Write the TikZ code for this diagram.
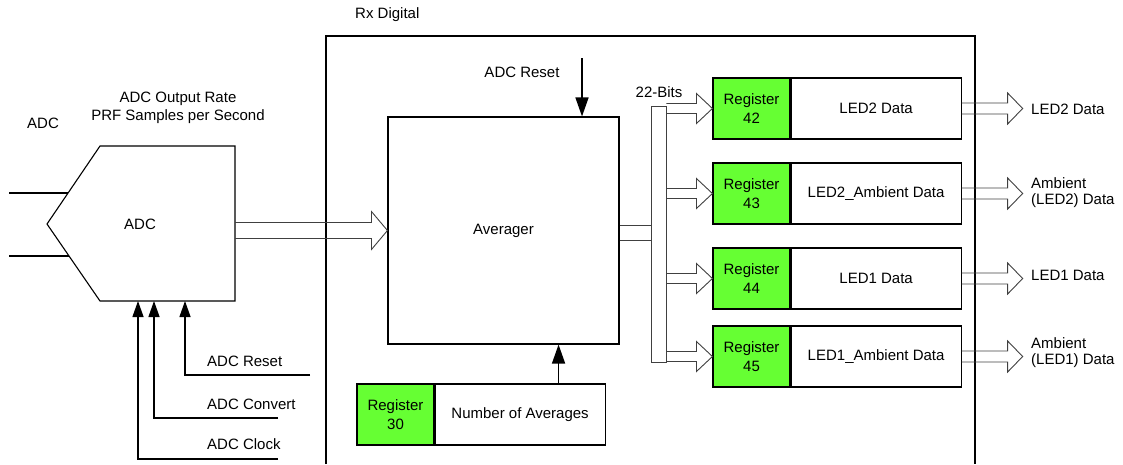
\documentclass[tikz,border=0pt]{standalone}
\usepackage{fontspec}
\setmainfont{Liberation Sans}
\usetikzlibrary{arrows.meta,calc}
\definecolor{reggreen}{RGB}{102,255,51}
\newcommand\hollowarrow[5]{%
  \draw[harrow] let \p1=#1, \p2=#2 in
   (\x1,\y2+#3) -- (\x2-#5,\y2+#3) -- (\x2-#5,\y2+#4) -- (\x2,\y2)
   -- (\x2-#5,\y2-#4) -- (\x2-#5,\y2-#3) -- (\x1,\y2-#3);}
\newcommand\regrow[5]{% num, y, text, out label, out y
  \node[greenbox] (g#1) at (751.5,#2) {Register\\#1};
  \node[whitebox, anchor=west] (w#1) at (g#1.east) {#3};
  \hollowarrow{(bar.east)}{(g#1.west)}{5pt}{15pt}{16pt}
  \node[lbl] (o#1) at (1031,#5) {#4};
  \coordinate (tip#1) at ([xshift=61pt]w#1.east);
  \hollowarrow{(w#1.east)}{(tip#1)}{5.5pt}{15.5pt}{15pt}}
\begin{document}
\begin{tikzpicture}[x=1pt,y=-1pt,
  every node/.style={font=\fontsize{15}{18}\selectfont, inner sep=0pt},
  box/.style={draw, line width=1.1pt, fill=white, minimum height=61pt},
  greenbox/.style={box, fill=reggreen, minimum width=77pt, align=center, font=\fontsize{15}{19}\selectfont},
  whitebox/.style={box, minimum width=170pt},
  harrow/.style={draw=black!75, line width=0.9pt},
  sig/.style={line width=1.3pt, -{Triangle[length=16pt,width=11pt]}},
  sigbig/.style={line width=1.5pt, -{Triangle[length=19pt,width=13pt]}},
  lbl/.style={anchor=west, align=left, font=\fontsize{15}{16}\selectfont}]
\useasboundingbox (0,0) rectangle (1123,464);

% Rx Digital enclosure
\node[anchor=west] (rxlbl) at (355,15) {Rx Digital};
\draw[line width=1.1pt] (326,464) -- (326,36) -- (975,36) -- (975,464);

% ADC
\draw[line width=1.1pt] (100,146) -- (235,146) -- (235,301) -- (100,301) -- (47,224) -- cycle;
\node (adc) at (140,224) {ADC};
\coordinate (adcR) at (235,229);
\coordinate (in1) at (9,193);
\coordinate (in2) at (9,256);
\draw[line width=1.3pt] (in1) -- (68,193);
\draw[line width=1.3pt] (in2) -- (69,256);
\node (adclbl) at (43,123) {ADC};
\node[align=center] (ratelbl) at (178,108) {ADC Output Rate\\PRF Samples per Second};

% ADC control inputs
\coordinate (tClk) at (138,301);
\coordinate (tCnv) at (154,301);
\coordinate (tRst) at (185,301);
\node[anchor=west] (lRst) at (207,361) {ADC Reset};
\node[anchor=west] (lCnv) at (207,404) {ADC Convert};
\node[anchor=west] (lClk) at (207,444) {ADC Clock};
\coordinate (eRst) at (310,375);
\coordinate (eCnv) at (278,418);
\coordinate (eClk) at (278,459);
\draw[sig] (eRst) -| (tRst);
\draw[sig] (eCnv) -| (tCnv);
\draw[sig] (eClk) -| (tClk);

% Averager
\node[draw, line width=1.1pt, minimum width=231pt, minimum height=227pt] (avg) at (503.5,230.5) {Averager};
\hollowarrow{(adcR)}{(avg.west)}{8pt}{19pt}{16pt}

\node (avgrst) at (522,72) {ADC Reset};
\coordinate (rstTop) at (582,58);
\draw[sigbig] (rstTop) -- (rstTop |- avg.north);

% Register 30
\node[greenbox] (g30) at (395.5,414.5) {Register\\30};
\node[whitebox, anchor=west] (w30) at (g30.east) {Number of Averages};
\coordinate (n30) at ([xshift=124pt]w30.north west);
\draw[sigbig] (n30) -- (n30 |- avg.south);

% 22-bit bus
\node[draw=black!75, line width=0.9pt, minimum width=15pt, minimum height=256pt] (bar) at (658.5,234) {};
\node (bits) at (659,92) {22-Bits};
\coordinate (bt) at ([yshift=5.5pt]avg.east);
\coordinate (bb) at ([yshift=-9.5pt]avg.east);
\draw[harrow] (bt) -- (bt -| bar.west);
\draw[harrow] (bb) -- (bb -| bar.west);

% Register rows
\regrow{42}{108.5}{LED2 Data}{LED2 Data}{109}
\regrow{43}{193.5}{LED2\_Ambient Data}{Ambient\\(LED2) Data}{193}
\regrow{44}{278.5}{LED1 Data}{LED1 Data}{275}
\regrow{45}{356.5}{LED1\_Ambient Data}{Ambient\\(LED1) Data}{353}
\end{tikzpicture}
\end{document}
